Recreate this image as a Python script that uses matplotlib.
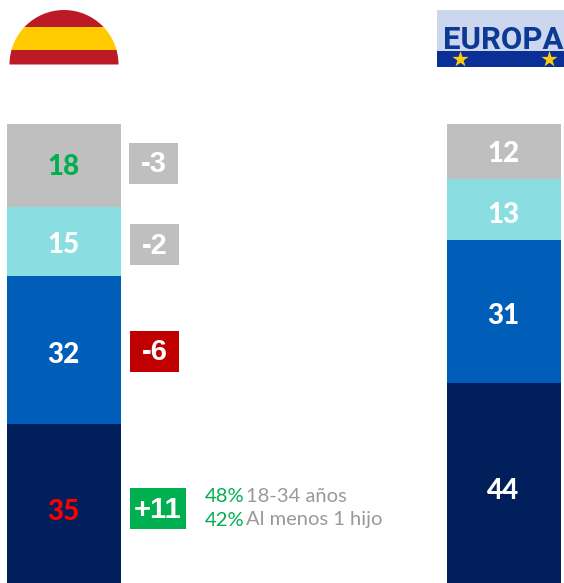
import matplotlib
matplotlib.use("Agg")
import matplotlib.pyplot as plt
from matplotlib.patches import Rectangle, Wedge

W, H = 564, 583
segments = ["Gris", "Turquesa", "Azul", "Marino"]
spain = [18, 15, 32, 35]
europe = [12, 13, 31, 44]
deltas = ["-3", "-2", "-6", "+11"]
colors = ["#BFBFBF", "#8ADDE0", "#005EB8", "#001F5B"]
delta_colors = ["#BFBFBF", "#BFBFBF", "#C00000", "#00B050"]
spain_label_colors = ["#00B050", "#FFFFFF", "#FFFFFF", "#FF0000"]
europe_label_colors = ["#FFFFFF", "#FFFFFF", "#FFFFFF", "#FFFFFF"]
note_pct = ["48%", "42%"]
note_txt = ["18-34 años", "Al menos 1 hijo"]

fig = plt.figure(figsize=(W / 100, H / 100), dpi=100, facecolor="white")
px = fig.add_axes([0, 0, 1, 1])
px.set_xlim(0, W); px.set_ylim(H, 0); px.axis("off")

scale = 4.62
zero_px = 586
ax = fig.add_axes([0, 0, 1, 1], facecolor="none")
ax.set_xlim(0, W)
ax.set_ylim((zero_px - H) / scale, zero_px / scale)
ax.axis("off")

def stack(values, x0, width, label_cols, nudges):
    top = sum(values)
    for v, c, lc, dy in zip(values, colors, label_cols, nudges):
        ax.bar(x0 + width / 2, v, width=width, bottom=top - v, color=c, linewidth=0)
        ax.annotate(str(v), (x0 + width / 2, top - v / 2), xytext=(-1 / 1.39, -dy * 0.72),
                    textcoords="offset points", ha="center", va="center",
                    color=lc, fontsize=20, fontweight="black", family="Lato")
        top -= v

stack(spain, 7, 114, spain_label_colors, [1, 3, 5, 7])
stack(europe, 447, 114, europe_label_colors, [2, 6, 5, 7])

boxes = [(129, 143, 49, 41), (130, 224, 49, 41), (130, 331, 49, 41), (130, 488, 56, 41)]
for (x, y, w, h), d, c in zip(boxes, deltas, delta_colors):
    px.add_patch(Rectangle((x, y), w, h, color=c, linewidth=0))
    px.text(x + w / 2, y + h / 2 + 1, d, ha="center", va="center", color="white",
            fontsize=21, fontweight="bold", family="Liberation Sans")

for i, yy in enumerate([497, 520]):
    px.text(205, yy, note_pct[i], color="#00B050", fontsize=14.5, va="center", family="Lato")
    px.text(246, yy, note_txt[i], color="#999999", fontsize=14.5, va="center", family="Lato")

disc = Wedge((64, 64.5), 54.5, 180, 360, facecolor="none", edgecolor="none")
px.add_patch(disc)
for y, h, c in [(9, 18, "#BC1A25"), (27, 23, "#FFCB00"), (50, 15, "#BC1A25")]:
    r = Rectangle((8, y), 112, h, color=c, linewidth=0)
    px.add_patch(r)
    r.set_clip_path(disc)

px.add_patch(Rectangle((437, 10), 127, 41, color="#CDD6EF", linewidth=0))
px.add_patch(Rectangle((437, 51), 127, 16, color="#0A2F96", linewidth=0))
px.text(443, 49, "EUROPA", color="#0B3A94", fontsize=22.4, fontweight="bold",
        family="Roboto", ha="left", va="baseline")
px.scatter([460, 549], [59, 59], marker="*", s=150, color="#FFC90E", linewidths=0, zorder=5)

fig.savefig("out.png", dpi=100)
